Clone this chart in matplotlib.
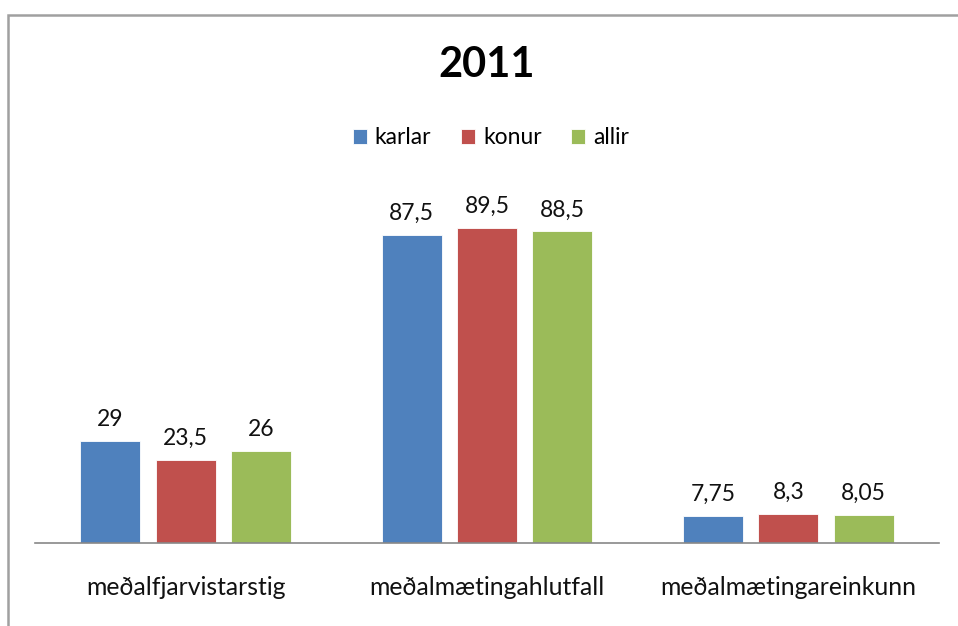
import matplotlib
matplotlib.use("Agg")
import matplotlib.pyplot as plt
from matplotlib.patches import Rectangle
import numpy as np

plt.rcParams['font.family'] = ['Lato', 'DejaVu Sans']

categories = ["meðalfjarvistarstig", "meðalmætingahlutfall", "meðalmætingareinkunn"]
series_names = ["karlar", "konur", "allir"]
karlar = [29, 87.5, 7.75]
konur = [23.5, 89.5, 8.3]
allir = [26, 88.5, 8.05]
colors = ["#4F81BD", "#C0504D", "#9BBB59"]
title = "2011"

fig = plt.figure(figsize=(9.58, 6.26), dpi=100)
ax = fig.add_axes([35/958, (626-543)/626, 904/958, (543-191)/626])

x = np.arange(len(categories))
width = 0.2
offsets = [-0.25, 0, 0.25]
for vals, name, col, off in zip([karlar, konur, allir], series_names, colors, offsets):
    bars = ax.bar(x + off, vals, width, color=col, label=name, edgecolor='white', linewidth=0.6)
    for b, v in zip(bars, vals):
        ax.annotate(f"{v:g}".replace('.', ','), (b.get_x() + b.get_width()/2, v),
                    xytext=(0, 8), textcoords='offset points', ha='center', va='bottom',
                    fontsize=16.5, color='#111111')

ax.set_xlim(-0.5, 2.5)
ax.set_ylim(0, 100)
ax.set_xticks(x)
ax.set_xticklabels(categories, fontsize=17.8, color='#111111')
ax.tick_params(axis='x', length=0, pad=24)
ax.set_yticks([])
for s in ['top', 'right', 'left']:
    ax.spines[s].set_visible(False)
ax.spines['bottom'].set_color('#888888')
ax.spines['bottom'].set_linewidth(1.2)

fig.text(487/958, 1 - 65/626, title, ha='center', va='center', fontsize=30, fontweight='bold', color='black')
leg = fig.legend(loc='center', bbox_to_anchor=(491/958, 1 - 138/626), ncol=3, frameon=False,
                 fontsize=16.5, handlelength=0.6, handleheight=0.6, handletextpad=0.35, columnspacing=1.3)

# outer frame (clipped by image edge)
fig.patches.append(Rectangle((8/958, -0.1), 1.2, 1 - 15/626 + 0.1, transform=fig.transFigure,
                             fill=False, edgecolor='#a0a0a0', linewidth=1.8, figure=fig))

fig.savefig("out.png", dpi=100)
